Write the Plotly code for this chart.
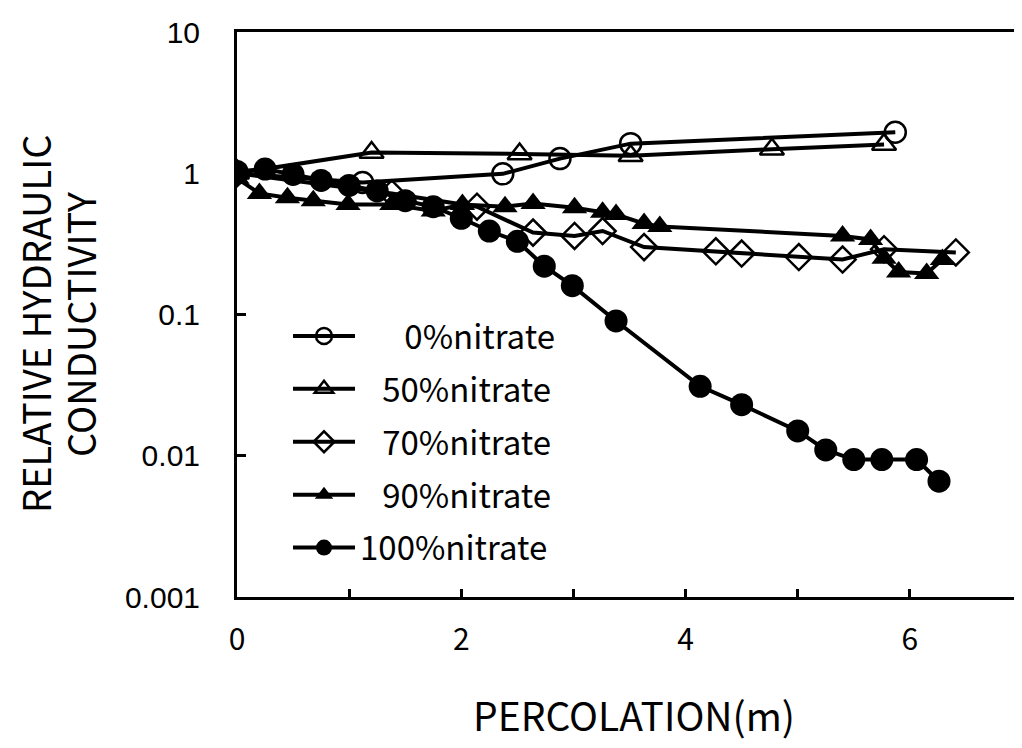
import plotly.graph_objects as go

# ---- data ----
x_0 = [0, 1.12, 2.37, 2.88, 3.51, 5.87]
y_0 = [1.0, 0.86, 0.99, 1.27, 1.62, 1.95]

x_50 = [0, 1.20, 2.52, 3.51, 4.77, 5.77]
y_50 = [1.0, 1.40, 1.37, 1.33, 1.48, 1.60]

x_70 = [0, 1.38, 2.14, 2.64, 3.01, 3.26, 3.63, 4.27, 4.50, 5.01, 5.40, 5.77, 6.41]
y_70 = [1.0, 0.72, 0.58, 0.38, 0.36, 0.39, 0.30, 0.28, 0.27, 0.255, 0.245, 0.29, 0.275]

x_90 = [0, 0.20, 0.45, 0.68, 0.99, 1.38, 1.75, 2.01, 2.39, 2.64, 3.01, 3.26, 3.38,
        3.63, 3.77, 5.40, 5.65, 5.77, 5.90, 6.15, 6.29]
y_90 = [0.92, 0.72, 0.67, 0.64, 0.60, 0.60, 0.54, 0.60, 0.58, 0.61, 0.57, 0.53, 0.51,
        0.44, 0.42, 0.36, 0.34, 0.25, 0.20, 0.195, 0.245]

x_100 = [0, 0.25, 0.50, 0.75, 1.00, 1.25, 1.50, 1.75, 2.00, 2.25, 2.50, 2.74, 2.99,
         3.38, 4.13, 4.50, 5.00, 5.25, 5.50, 5.75, 6.06, 6.26]
y_100 = [1.03, 1.07, 0.98, 0.89, 0.82, 0.75, 0.64, 0.58, 0.48, 0.39, 0.33, 0.22, 0.16,
         0.09, 0.031, 0.023, 0.015, 0.011, 0.0094, 0.0094, 0.0094, 0.0066]

NB = "\u00a0"
names = [NB * 6 + "0%nitrate", NB * 3 + "50%nitrate", NB * 3 + "70%nitrate",
         NB * 3 + "90%nitrate", "100%nitrate"]

x_tick_vals = [0, 2, 4, 6]
y_tick_vals = [0.001, 0.01, 0.1, 1, 10]
y_tick_text = ["0.001", "0.01", "0.1", "1", "10"]

GOTHIC = "Noto Sans CJK JP, sans-serif"

# page body has an 8px default margin; compensate so the plot lands on the reference pixels
OFF = 8
L, T, B = 237 - OFF, 32 - OFF, 151
W, H = 1022 - OFF, 748 - OFF
PW, PH = W - L, H - T - B

def px(xp):
    return (xp - OFF - L) / PW

def py(yp):
    return (H - B - (yp - OFF)) / PH

fig = go.Figure()

series = [
    (x_0, y_0, names[0], dict(symbol="circle-open", size=21, color="black", line=dict(width=2.5, color="black"))),
    (x_50, y_50, names[1], dict(symbol="triangle-up-open", size=21, color="black", line=dict(width=2.5, color="black"))),
    (x_70, y_70, names[2], dict(symbol="diamond-open", size=20, color="black", line=dict(width=2.5, color="black"))),
    (x_90, y_90, names[3], dict(symbol="triangle-up", size=22, color="black")),
    (x_100, y_100, names[4], dict(symbol="circle", size=23, color="black")),
]

for i, (xs, ys, nm, mk) in enumerate(series):
    fig.add_trace(go.Scatter(
        x=xs, y=ys, name=nm, mode="lines+markers",
        line=dict(color="black", width=4),
        marker=mk, legendgroup=f"g{i}",
    ))

fig.update_layout(
    width=W, height=H,
    margin=dict(l=L, r=0, t=T, b=B, pad=0),
    paper_bgcolor="white", plot_bgcolor="white",
    showlegend=True,
    legend=dict(
        x=px(288), y=py(308), xanchor="left", yanchor="top",
        bgcolor="rgba(0,0,0,0)",
        font=dict(family=GOTHIC, size=33, color="black"),
        tracegroupgap=7, itemwidth=62,
    ),
    xaxis=dict(
        range=[0, 7], showgrid=False, zeroline=False, automargin=False,
        showline=True, linecolor="black", linewidth=3, mirror=True,
        tickmode="array", tickvals=x_tick_vals, ticktext=[str(v) for v in x_tick_vals],
        ticks="inside", ticklen=8, tickwidth=2.5, tickcolor="black",
        minor=dict(dtick=1, ticks="inside", ticklen=8, tickwidth=2.5, tickcolor="black"),
        tickfont=dict(family=GOTHIC, size=30, color="black"),
        ticklabelstandoff=14,
    ),
    yaxis=dict(
        type="log", range=[-3, 1], showgrid=False, zeroline=False, automargin=False,
        showline=True, linecolor="black", linewidth=3, mirror=False,
        tickmode="array", tickvals=y_tick_vals, ticktext=y_tick_text,
        ticks="inside", ticklen=9, tickwidth=2.5, tickcolor="black",
        tickfont=dict(family="Liberation Sans, Arial, sans-serif", size=30, color="black"),
        ticklabelstandoff=28,
    ),
    annotations=[
        dict(text="RELATIVE HYDRAULIC", xref="paper", yref="paper",
             x=px(34), y=py(324), xanchor="center", yanchor="middle",
             textangle=-90, showarrow=False,
             font=dict(family=GOTHIC, size=38, color="black")),
        dict(text="CONDUCTIVITY", xref="paper", yref="paper",
             x=px(79), y=py(324), xanchor="center", yanchor="middle",
             textangle=-90, showarrow=False,
             font=dict(family=GOTHIC, size=38, color="black")),
        dict(text="PERCOLATION(m)", xref="paper", yref="paper",
             x=px(634), y=py(714), xanchor="center", yanchor="middle",
             showarrow=False,
             font=dict(family=GOTHIC, size=39, color="black")),
    ],
)

fig.write_html("out.html")
